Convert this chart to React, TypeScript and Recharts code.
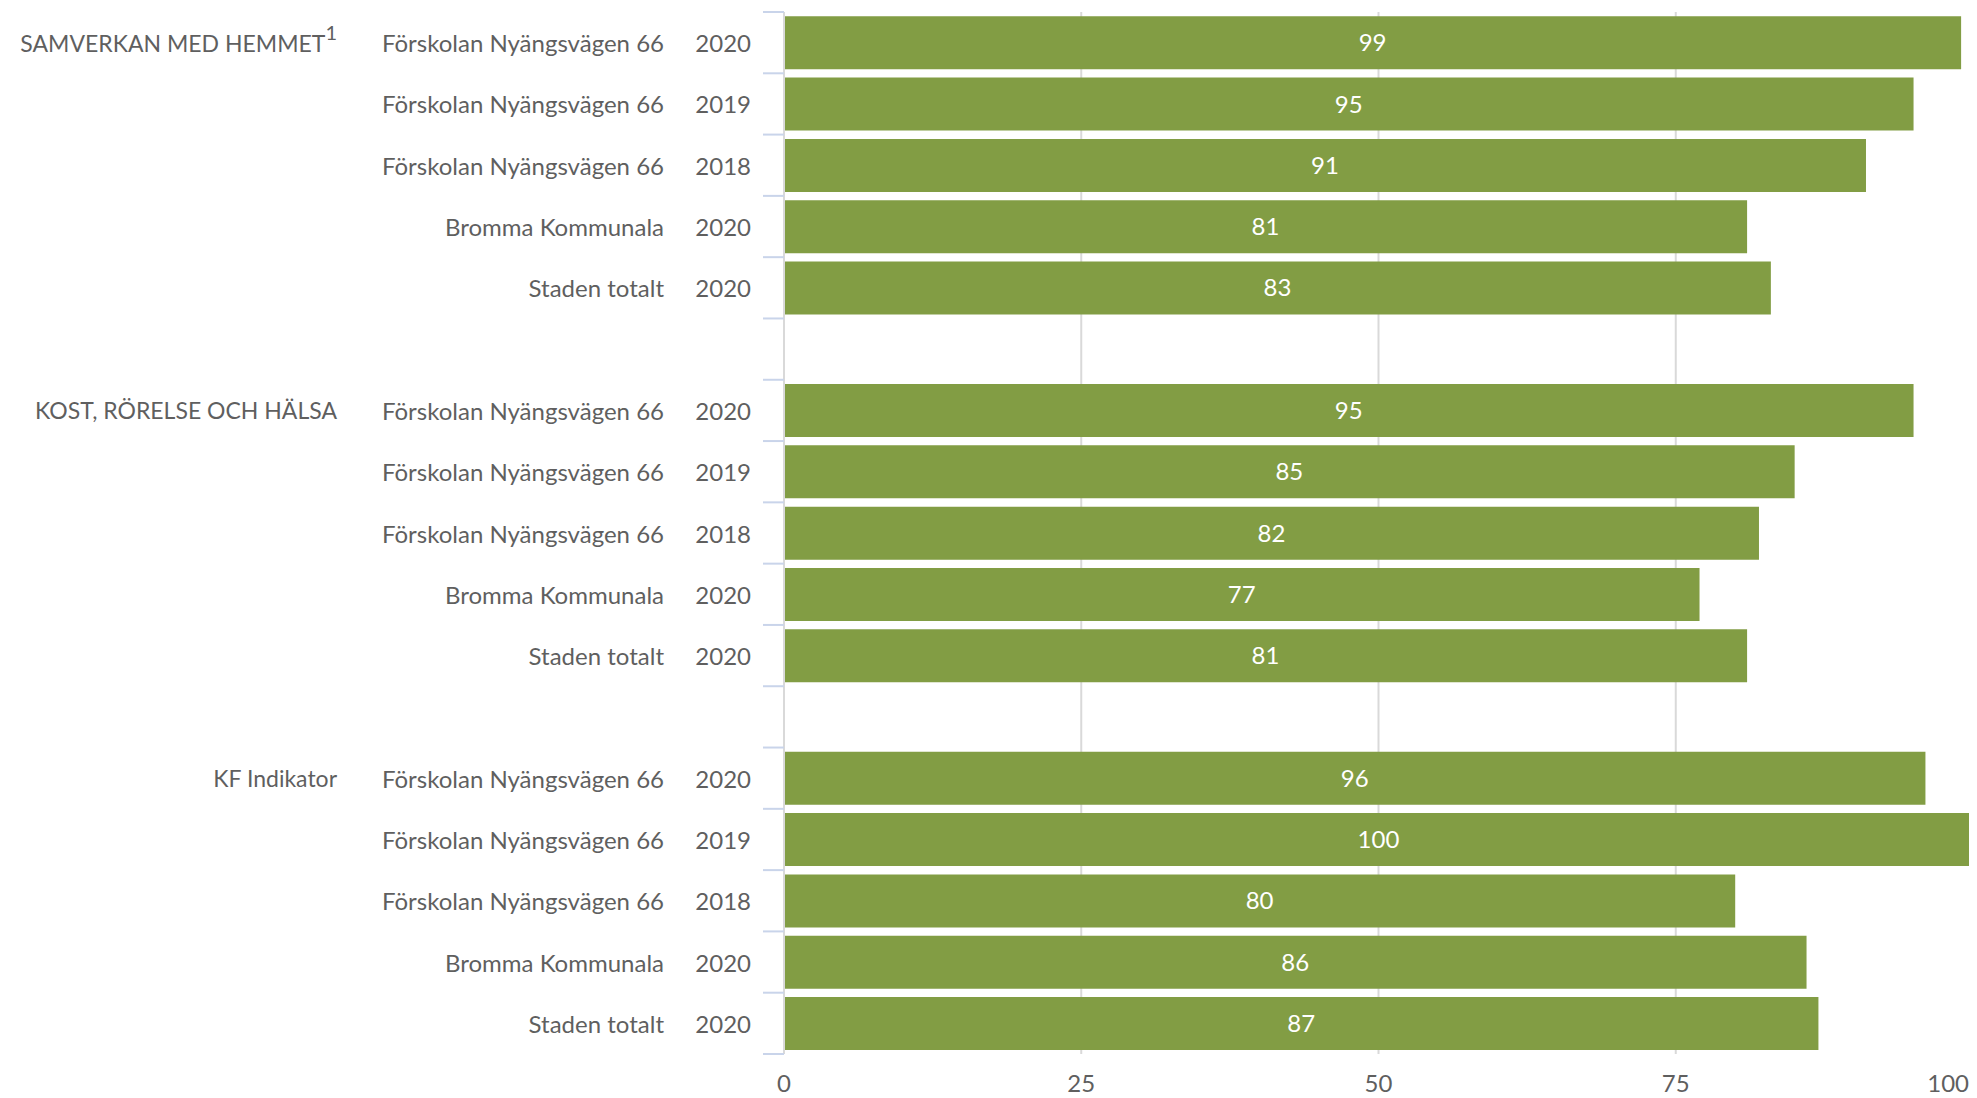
import React from 'react';
import { BarChart, Bar, XAxis, YAxis, CartesianGrid, LabelList } from 'recharts';

const groups = ['SAMVERKAN MED HEMMET', 'KOST, RÖRELSE OCH HÄLSA', 'KF Indikator'];
const groupNotes = ['1', '', ''];
const units = ['Förskolan Nyängsvägen 66', 'Förskolan Nyängsvägen 66', 'Förskolan Nyängsvägen 66', 'Bromma Kommunala', 'Staden totalt'];
const years = ['2020', '2019', '2018', '2020', '2020'];
const samverkanValues = [99, 95, 91, 81, 83];
const kostValues = [95, 85, 82, 77, 81];
const kfValues = [96, 100, 80, 86, 87];
const xTicks = [0, 25, 50, 75, 100];

const groupValues = [samverkanValues, kostValues, kfValues];

type Row = { key: string; group: string; note: string; unit: string; year: string; value: number | null };

const rows: Row[] = [];
groups.forEach((g, gi) => {
  if (gi > 0) rows.push({ key: `gap-${gi}`, group: '', note: '', unit: '', year: '', value: null });
  units.forEach((u, i) => {
    rows.push({
      key: `${gi}-${i}`,
      group: i === 0 ? g : '',
      note: i === 0 ? groupNotes[gi] : '',
      unit: u,
      year: years[i],
      value: groupValues[gi][i],
    });
  });
});

const FONT = 'Lato, "Noto Sans", sans-serif';
const TEXT = '#5f5f5f';
const FS = 24;

const YTick = (props: any) => {
  const { x, y, payload, index } = props;
  const row = rows.find((r) => r.key === payload.value);
  const off = payload.offset || 0;
  const isLast = index === rows.length - 1;
  return (
    <g>
      <line x1={x - 21} x2={x} y1={y - off} y2={y - off} stroke="#c9d4ea" strokeWidth={2} />
      {isLast && <line x1={x - 21} x2={x} y1={y + off} y2={y + off} stroke="#c9d4ea" strokeWidth={2} />}
      {row && row.group && (
        <text x={x - 447} y={y} textAnchor="end" dominantBaseline="central" fill={TEXT} fontSize={23} fontFamily={FONT}>
          {row.group}
          {row.note && (
            <tspan fontSize={20} dy={-11}>
              {row.note}
            </tspan>
          )}
        </text>
      )}
      {row && row.unit && (
        <text x={x - 120} y={y} textAnchor="end" dominantBaseline="central" fill={TEXT} fontSize={FS} fontFamily={FONT}>
          {row.unit}
        </text>
      )}
      {row && row.year && (
        <text x={x - 33} y={y} textAnchor="end" dominantBaseline="central" fill={TEXT} fontSize={FS} fontFamily={FONT}>
          {row.year}
        </text>
      )}
    </g>
  );
};

const XTick = (props: any) => {
  const { x, y, payload } = props;
  const isMax = payload.value === xTicks[xTicks.length - 1];
  return (
    <text
      x={isMax ? x + 4 : x}
      y={y}
      textAnchor={isMax ? 'end' : 'middle'}
      dominantBaseline="central"
      fill={TEXT}
      fontSize={FS}
      fontFamily={FONT}
    >
      {payload.value}
    </text>
  );
};

export default function App() {
  return (
    <BarChart
      width={1969}
      height={1090}
      data={rows}
      layout="vertical"
      margin={{ top: 4, right: 4, bottom: 4, left: 0 }}
      barCategoryGap="7%"
    >
      <CartesianGrid horizontal={false} stroke="#d9d9d9" strokeWidth={2} />
      <XAxis
        type="number"
        domain={[0, 100]}
        ticks={xTicks}
        axisLine={false}
        tickLine={false}
        height={40}
        tick={<XTick />}
        tickMargin={28}
        tickSize={0}
      />
      <YAxis
        type="category"
        dataKey="key"
        width={776}
        interval={0}
        axisLine={{ stroke: '#d9d9d9', strokeWidth: 2 }}
        tickLine={false}
        tickSize={0}
        tickMargin={0}
        tick={<YTick />}
      />
      <Bar dataKey="value" fill="#829D44" isAnimationActive={false}>
        <LabelList
          dataKey="value"
          position="center"
          fill="#ffffff"
          fontSize={FS}
          fontFamily={FONT}
          formatter={(v: any) => (v === null || v === undefined ? '' : v)}
        />
      </Bar>
    </BarChart>
  );
}
